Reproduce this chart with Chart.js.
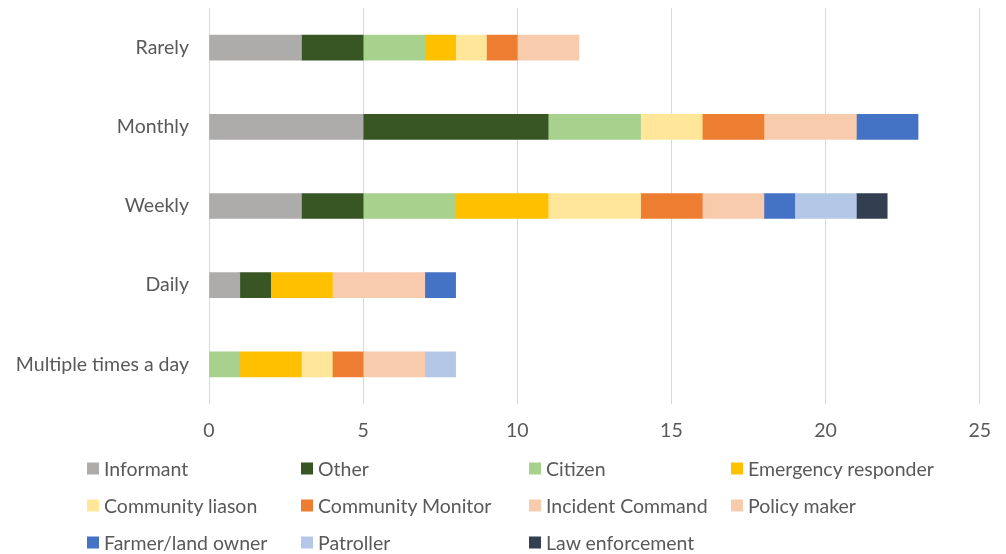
<!DOCTYPE html>
<html>
<head>
<meta charset="utf-8">
<script src="https://cdn.jsdelivr.net/npm/chart.js@4.4.1/dist/chart.umd.min.js"></script>
<style>
  html, body { margin: 0; padding: 0; background: #fff; }
  #wrap { position: relative; width: 1006px; height: 554px; }
  #legend { position: absolute; left: 0; top: 0; width: 1006px; height: 554px; pointer-events: none; }
  .item { position: absolute; display: flex; align-items: center; font: 19.5px Lato, "Open Sans", sans-serif; color: #595959; white-space: nowrap; transform: translateY(-50%); }
  .box { width: 12px; height: 12px; margin-right: 5px; }
</style>
</head>
<body>
<div id="wrap">
  <canvas id="freqChart" width="1006" height="554"></canvas>
  <div id="legend"></div>
</div>
<script>
const frequencies = ['Rarely', 'Monthly', 'Weekly', 'Daily', 'Multiple times a day'];
const roles = ['Informant', 'Other', 'Citizen', 'Emergency responder', 'Community liason',
  'Community Monitor', 'Incident Command', 'Policy maker', 'Farmer/land owner', 'Patroller', 'Law enforcement'];

// counts per role, in the order of frequencies
const informant     = [3, 5, 3, 1, 0];
const other         = [2, 6, 2, 1, 0];
const citizen       = [2, 3, 3, 0, 1];
const emergency     = [1, 0, 3, 2, 2];
const liason        = [1, 2, 3, 0, 1];
const monitor       = [1, 2, 2, 0, 1];
const incident      = [2, 3, 2, 2, 2];
const policyMaker   = [0, 0, 0, 1, 0];
const farmer        = [0, 2, 1, 1, 0];
const patroller     = [0, 0, 2, 0, 1];
const lawEnforce    = [0, 0, 1, 0, 0];

const xTicks = [0, 5, 10, 15, 20, 25];

const series = [informant, other, citizen, emergency, liason, monitor, incident, policyMaker, farmer, patroller, lawEnforce];
const colors = ['#AEABAB', '#375623', '#A9D18E', '#FFC000', '#FFE699', '#ED7D31',
  '#F8CBAD', '#F8CBAD', '#4472C4', '#B4C7E7', '#333F50'];

const textColor = '#595959';
const font = { family: 'Lato, "Open Sans", sans-serif', size: 19.5 };

const ctx = document.getElementById('freqChart').getContext('2d');
new Chart(ctx, {
  type: 'bar',
  data: {
    labels: frequencies,
    datasets: roles.map((role, i) => ({
      label: role,
      // zero counts are skipped so no hairline slivers get drawn
      data: series[i].map(v => (v === 0 ? null : v)),
      backgroundColor: colors[i],
      borderWidth: 0,
      barThickness: 25
    }))
  },
  options: {
    indexAxis: 'y',
    responsive: false,
    animation: false,
    layout: { padding: { top: 8, right: 25, bottom: 110, left: 0 } },
    plugins: {
      legend: { display: false },
      tooltip: { enabled: false }
    },
    scales: {
      x: {
        stacked: true,
        min: 0,
        max: 25,
        afterBuildTicks: (scale) => { scale.ticks = xTicks.map(v => ({ value: v })); },
        grid: { color: '#D9D9D9', lineWidth: 1, drawTicks: false },
        border: { display: false },
        ticks: { color: textColor, font: font, padding: 15 },
        afterFit: (scale) => { scale.height = 40; }
      },
      y: {
        stacked: true,
        grid: { display: false, drawTicks: false },
        border: { display: false },
        ticks: { color: textColor, font: font, padding: 20 },
        afterFit: (scale) => {
          scale.width = 209;
          scale.paddingTop = 0;
          scale.paddingBottom = 0;
        }
      }
    }
  }
});

// legend laid out in fixed columns below the plot
const legendCols = [87, 301, 529, 731];
const legendRows = [468, 505, 542];
const legend = document.getElementById('legend');
roles.forEach((role, i) => {
  const item = document.createElement('div');
  item.className = 'item';
  item.style.left = legendCols[i % 4] + 'px';
  item.style.top = legendRows[Math.floor(i / 4)] + 'px';
  const box = document.createElement('span');
  box.className = 'box';
  box.style.background = colors[i];
  item.appendChild(box);
  item.appendChild(document.createTextNode(role));
  legend.appendChild(item);
});
</script>
</body>
</html>
